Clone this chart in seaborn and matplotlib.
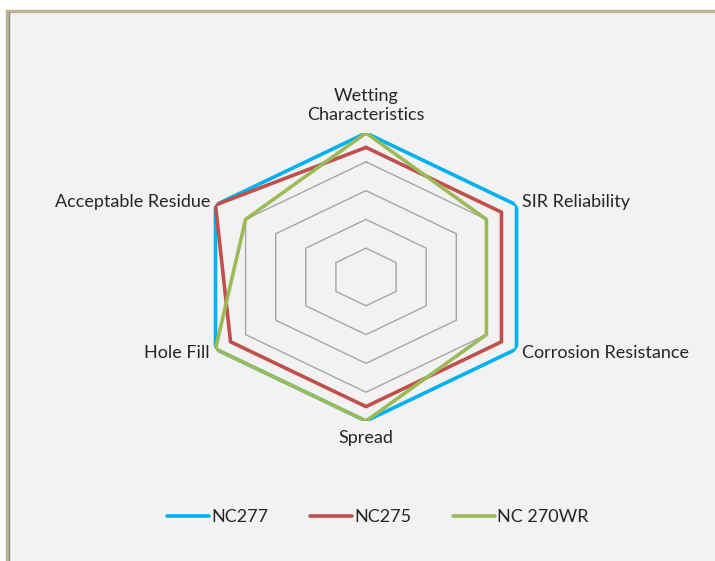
import numpy as np
import pandas as pd
import matplotlib.pyplot as plt
import matplotlib.patches as mpatches
from matplotlib.lines import Line2D
import seaborn as sns

# Datos
categorias = ['Wetting\nCharacteristics', 'SIR Reliability', 'Corrosion Resistance',
              'Spread', 'Hole Fill', 'Acceptable Residue']
productos = ['NC277', 'NC275', 'NC 270WR']
nc277 = [5, 5, 5, 5, 5, 5]
nc275 = [4.5, 4.5, 4.5, 4.5, 4.5, 5]
nc270wr = [5, 4, 4, 5, 5, 4]
niveles = [1, 2, 3, 4, 5]
colores = ['#00B0F0', '#C0504D', '#9BBB59']

sns.set_theme(style='white')
plt.rcParams['font.family'] = ['Lato', 'DejaVu Sans']

n = len(categorias)
angulos = np.arange(n) * 2 * np.pi / n

filas = []
for prod, vals in zip(productos, [nc277, nc275, nc270wr]):
    for i in list(range(n)) + [0]:
        filas.append({'Producto': prod, 'theta': angulos[i], 'valor': vals[i]})
df = pd.DataFrame(filas)

fig = plt.figure(figsize=(7.15, 5.61), dpi=100, facecolor='white')

# marco tipo Excel
fondo = mpatches.Rectangle((7 / 715, -0.01), 1.0, 1 - 11 / 561 + 0.01,
                           transform=fig.transFigure, facecolor='#F2F2F2',
                           edgecolor='#BFB48F', linewidth=2.5, zorder=-10)
fig.patches.append(fondo)
fig.add_artist(Line2D([9 / 715, 9 / 715], [0, 1 - 12 / 561], transform=fig.transFigure,
                      color='#8C8C8C', linewidth=1))

ax = fig.add_axes([192.2 / 715, 140 / 561, 347.6 / 715, 288 / 561], projection='polar')
ax.set_aspect('auto')
ax.set_facecolor('none')
ax.set_theta_zero_location('N')
ax.set_theta_direction(-1)
ax.set_ylim(0, 5)
ax.grid(False)
ax.spines['polar'].set_visible(False)
ax.set_xticks([])
ax.set_yticks([])

# rejilla hexagonal
th = np.append(angulos, angulos[0])
for nv in niveles[:-1]:
    ax.plot(th, [nv] * len(th), color='#A6A6A6', linewidth=1, zorder=1)

sns.lineplot(data=df, x='theta', y='valor', hue='Producto', hue_order=productos,
             palette=colores, sort=False, estimator=None, units='Producto',
             linewidth=2.6, legend=False, ax=ax, zorder=3)
ax.set_xlabel('')
ax.set_ylabel('')

# etiquetas
fs = 13
tc = '#262626'
ax.text(angulos[0], 5.35, categorias[0], ha='center', va='bottom', fontsize=fs,
        color=tc, linespacing=1.2)
ax.annotate(categorias[1], (angulos[1], 5), xytext=(4, 2), textcoords='offset points',
            ha='left', va='center', fontsize=fs, color=tc)
ax.annotate(categorias[2], (angulos[2], 5), xytext=(4, -3), textcoords='offset points',
            ha='left', va='center', fontsize=fs, color=tc)
ax.text(angulos[3], 5.3, categorias[3], ha='center', va='top', fontsize=fs, color=tc)
ax.annotate(categorias[4], (angulos[4], 5), xytext=(-4, -3), textcoords='offset points',
            ha='right', va='center', fontsize=fs, color=tc)
ax.annotate(categorias[5], (angulos[5], 5), xytext=(-4, 2), textcoords='offset points',
            ha='right', va='center', fontsize=fs, color=tc)

handles = [Line2D([], [], color=c, linewidth=2.6) for c in colores]
fig.legend(handles, productos, loc='center', bbox_to_anchor=(378 / 715, 1 - 517 / 561),
           ncol=3, frameon=False, fontsize=fs, handlelength=2.3, handletextpad=0.15,
           columnspacing=2.3)

fig.savefig('out.png', dpi=100, facecolor=fig.get_facecolor())
